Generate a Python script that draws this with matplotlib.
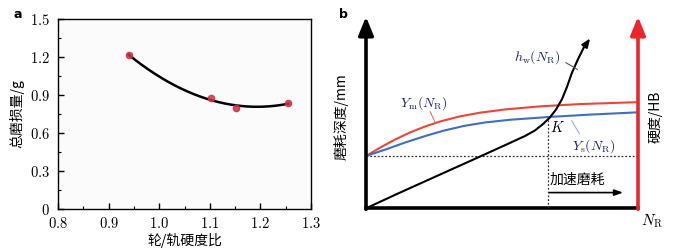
import numpy as np
import matplotlib
matplotlib.use("Agg")
import matplotlib.pyplot as plt
from matplotlib.ticker import MultipleLocator, FuncFormatter

plt.rcParams['font.family'] = ['Noto Sans CJK SC', 'DejaVu Sans']
plt.rcParams['mathtext.fontset'] = 'cm'

# panel a: measured total wear vs wheel/rail hardness ratio
hardness_ratio = [0.94, 1.103, 1.152, 1.255]
total_wear = [1.215, 0.875, 0.80, 0.835]

# panel b: schematic curves (x in % of axis length, y in % of axis height)
ym_x = [0, 5.1, 10.7, 16.2, 21.7, 27.2, 34.6, 41.9, 51.1, 64.0, 78.7, 100]
ym_y = [27.3, 31.6, 35.9, 39.6, 42.7, 45.3, 48.0, 49.9, 51.6, 53.2, 54.4, 55.4]
ys_x = [0, 7.0, 14.3, 21.7, 29.0, 36.4, 43.8, 52.9, 67.6, 82.4, 100]
ys_y = [27.3, 30.6, 34.3, 37.7, 40.7, 43.1, 44.8, 46.2, 47.7, 48.9, 50.1]
hw_x = [0, 12.5, 27.2, 41.9, 52.9, 58.4, 62.1, 65.1, 67.6, 69.9, 72.1, 73.9, 75.7, 77.9, 80.1, 82.4]
hw_y = [0, 8.2, 17.6, 27.0, 34.1, 37.7, 40.6, 44.0, 47.4, 51.6, 57.1, 63.4, 70.7, 77.7, 84.0, 88.7]
k_x, k_y = 67, 46.5
base_y = 27.3

fig = plt.figure(figsize=(6.78, 2.48), dpi=100)

# ---- panel a ----
ax = fig.add_axes([58 / 678, 1 - 209 / 248, 253 / 678, 190 / 248])
ax.set_facecolor('#fbfbfb')
coef = np.polyfit(hardness_ratio, total_wear, 2)
xs = np.linspace(hardness_ratio[0], hardness_ratio[-1], 200)
ax.plot(xs, np.polyval(coef, xs), color='black', lw=1.8, zorder=2)
ax.plot(hardness_ratio, total_wear, 'o', color='#d0303f', ms=4.5, alpha=0.85, zorder=3)
ax.set_xlim(0.8, 1.3)
ax.set_ylim(0, 1.5)
ax.xaxis.set_major_locator(MultipleLocator(0.1))
ax.xaxis.set_minor_locator(MultipleLocator(0.05))
ax.yaxis.set_major_locator(MultipleLocator(0.3))
ax.yaxis.set_minor_locator(MultipleLocator(0.15))
ax.xaxis.set_major_formatter(FuncFormatter(lambda v, p: r'$%.1f$' % v))
ax.yaxis.set_major_formatter(FuncFormatter(lambda v, p: r'$0$' if abs(v) < 1e-9 else r'$%.1f$' % v))
ax.tick_params(which='both', direction='in', labelsize=10.5)
ax.tick_params(which='major', length=4, width=1)
ax.tick_params(axis='x', which='major', pad=5)
ax.tick_params(axis='y', which='major', pad=6)
ax.tick_params(which='minor', length=2.5, width=0.8)
for s in ax.spines.values():
    s.set_linewidth(1.0)
ax.set_xlabel('轮/轨硬度比', fontsize=10, va='center')
ax.set_ylabel('总磨损量/g', fontsize=10, va='center')
ax.xaxis.set_label_coords(0.5, -(240 - 209) / 190)
ax.yaxis.set_label_coords(-(58 - 17) / 253, 0.5)
fig.text(14 / 678, 1 - 15 / 248, 'a', fontsize=9, fontweight='bold', family='DejaVu Sans',
         va='center')

# ---- panel b ----
bx = fig.add_axes([366 / 678, 1 - 208.3 / 248, 272 / 678, 191.6 / 248])
bx.set_xlim(0, 100)
bx.set_ylim(0, 100)
bx.axis('off')

# axes as thick arrows
bx.plot([0, 100], [0, 0], color='black', lw=2.6, solid_capstyle='projecting', clip_on=False)
bx.annotate('', xy=(0, 100), xytext=(0, -0.5),
            arrowprops=dict(arrowstyle='-|>,head_length=1.1,head_width=0.45', color='black',
                            lw=2.6, shrinkA=0, shrinkB=0), annotation_clip=False)
bx.annotate('', xy=(100, 100), xytext=(100, -0.5),
            arrowprops=dict(arrowstyle='-|>,head_length=1.1,head_width=0.45', color='#e8262b',
                            lw=2.6, shrinkA=0, shrinkB=0), annotation_clip=False)

# dotted guides
bx.plot([0, 100], [base_y, base_y], color='#333333', lw=0.9, ls=(0, (1.5, 1.5)))
bx.plot([k_x, k_x], [0, k_y], color='#333333', lw=0.9, ls=(0, (1.5, 1.5)))

bx.plot(ym_x, ym_y, color='#e8483a', lw=1.5, solid_joinstyle='round')
bx.plot(ys_x, ys_y, color='#3f6fc0', lw=1.5, solid_joinstyle='round')
bx.annotate('', xy=(hw_x[-1], hw_y[-1]), xytext=(hw_x[-2], hw_y[-2]),
            arrowprops=dict(arrowstyle='-|>,head_length=0.5,head_width=0.2', color='black', lw=1.5,
                            shrinkA=0, shrinkB=0))
bx.plot(hw_x[:-1], hw_y[:-1], color='black', lw=1.5, solid_joinstyle='round')

label_col = '#1c1f6a'
bx.text(62.8, 79.1, r'$h_{\mathrm{w}}(N_{\mathrm{R}})$', fontsize=10, color=label_col,
        ha='center', va='center')
bx.plot([73.5, 77.7], [76.0, 72.5], color='#555555', lw=0.8)
bx.text(21.2, 54.8, r'$Y_{\mathrm{m}}(N_{\mathrm{R}})$', fontsize=10, color=label_col,
        ha='center', va='center')
bx.plot([23.6, 25.5], [50.4, 44.7], color='#e07070', lw=0.8)
bx.text(83.6, 32.5, r'$Y_{\mathrm{s}}(N_{\mathrm{R}})$', fontsize=10, color=label_col,
        ha='center', va='center')
bx.plot([75.6, 78.4], [45.7, 39.1], color='#9ab0d0', lw=0.8)
bx.text(67.6, 42.3, r'$K$', fontsize=10.5, color='black', ha='left', va='center')

bx.text(67.6, 15, '加速磨耗', fontsize=10, ha='left', va='center')
bx.annotate('', xy=(94.5, 8.2), xytext=(67.5, 8.2),
            arrowprops=dict(arrowstyle='-|>,head_length=0.5,head_width=0.18', color='black', lw=1.2,
                            shrinkA=0, shrinkB=0))

bx.text(105, -6.5, r'$N_{\mathrm{R}}$', fontsize=11, ha='center', va='center')
fig.text(341 / 678, 1 - 117 / 248, '磨耗深度/mm', rotation=90, fontsize=10,
         ha='center', va='center')
fig.text(655 / 678, 1 - 117 / 248, '硬度/HB', rotation=90, fontsize=10,
         ha='center', va='center')
fig.text(339 / 678, 1 - 15 / 248, 'b', fontsize=9, fontweight='bold', family='DejaVu Sans',
         va='center')

fig.savefig('out.png', dpi=100)
